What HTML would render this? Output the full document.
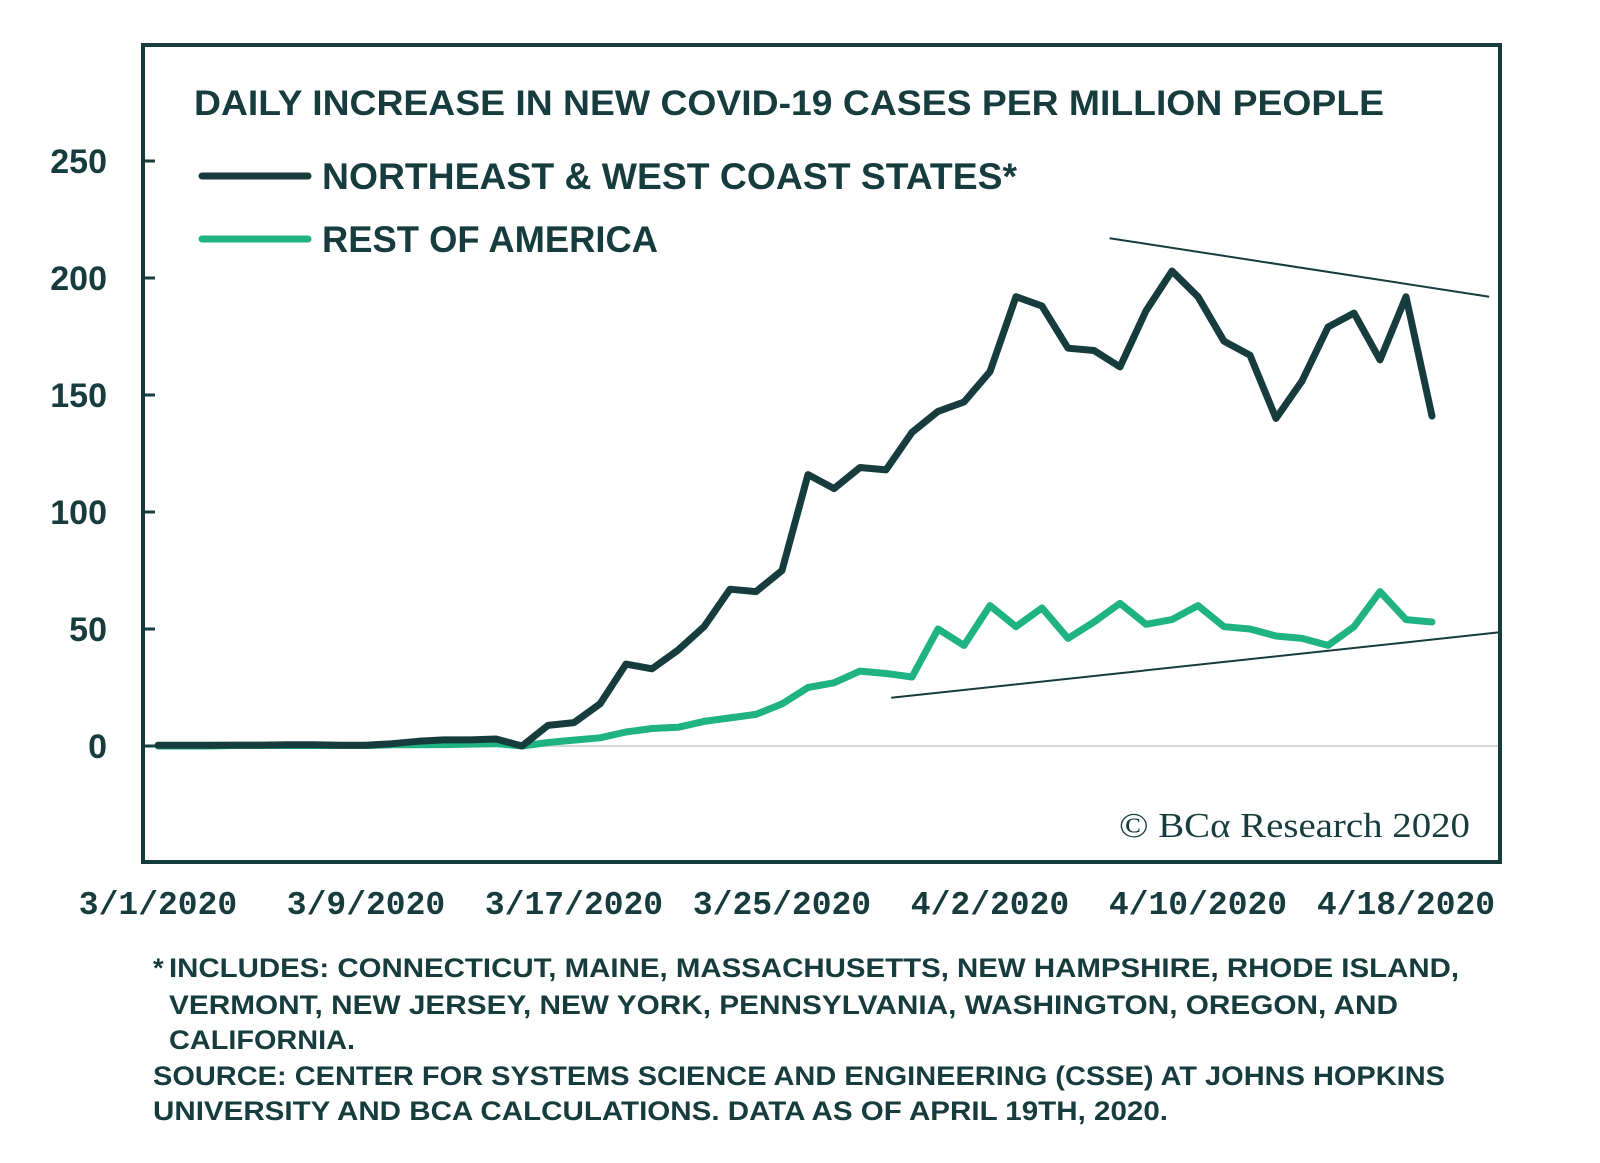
<!DOCTYPE html>
<html><head><meta charset="utf-8"><style>
html,body{margin:0;padding:0;background:#fff;}
svg{display:block;}
text{fill:#173c3e;font-family:"Liberation Sans",sans-serif;}
</style></head><body>
<svg id="chart" width="1600" height="1163" viewBox="0 0 1600 1163">
<rect x="143" y="45" width="1357" height="817" fill="none" stroke="#173c3e" stroke-width="4"/>
<text x="194" y="115" font-size="35" font-weight="bold" textLength="1190" lengthAdjust="spacingAndGlyphs">DAILY INCREASE IN NEW COVID-19 CASES PER MILLION PEOPLE</text>
<line x1="202" y1="176" x2="308" y2="176" stroke="#173c3e" stroke-width="7" stroke-linecap="round"/>
<text x="322" y="189" font-size="37" font-weight="bold" textLength="695" lengthAdjust="spacingAndGlyphs">NORTHEAST &amp; WEST COAST STATES*</text>
<line x1="202" y1="239" x2="308" y2="239" stroke="#1fb283" stroke-width="7" stroke-linecap="round"/>
<text x="322" y="252" font-size="37" font-weight="bold" textLength="336" lengthAdjust="spacingAndGlyphs">REST OF AMERICA</text>
<g id="yaxis"></g><g id="xaxis"></g><g id="trends"></g><g id="series"></g>
<text x="1470" y="837" font-size="35" text-anchor="end" textLength="351" lengthAdjust="spacingAndGlyphs" style="font-family:'Liberation Serif',serif">© BCα Research 2020</text>
<g font-size="27" font-weight="bold">
<text x="153" y="977">*</text>
<text x="169" y="977" textLength="1290" lengthAdjust="spacingAndGlyphs">INCLUDES: CONNECTICUT, MAINE, MASSACHUSETTS, NEW HAMPSHIRE, RHODE ISLAND,</text>
<text x="169" y="1014" textLength="1229" lengthAdjust="spacingAndGlyphs">VERMONT, NEW JERSEY, NEW YORK, PENNSYLVANIA, WASHINGTON, OREGON, AND</text>
<text x="169" y="1049" textLength="186" lengthAdjust="spacingAndGlyphs">CALIFORNIA.</text>
<text x="153" y="1085" textLength="1292" lengthAdjust="spacingAndGlyphs">SOURCE: CENTER FOR SYSTEMS SCIENCE AND ENGINEERING (CSSE) AT JOHNS HOPKINS</text>
<text x="153" y="1120" textLength="1015" lengthAdjust="spacingAndGlyphs">UNIVERSITY AND BCA CALCULATIONS. DATA AS OF APRIL 19TH, 2020.</text>
</g>
</svg>
<script>
const yTicks=[0,50,100,150,200,250];
const xTickDays=[0,8,16,24,32,40,48];
const xTickLabels=["3/1/2020","3/9/2020","3/17/2020","3/25/2020","4/2/2020","4/10/2020","4/18/2020"];
const northeast=[0.3,0.3,0.3,0.4,0.4,0.5,0.5,0.3,0.3,1,2,2.6,2.6,3,0,8.8,10,18,35,33,41,51,67,66,75,116,110,119,118,134,143,147,160,192,188,170,169,162,186,203,192,173,167,140,156,179,185,165,192,141];
const restOfAmerica=[0,0,0,0.2,0.2,0.2,0.2,0.2,0.2,0.5,0.5,0.6,0.8,1,0,1.5,2.5,3.5,6,7.5,8,10.5,12,13.5,18,25,27,32,31,29.5,50,43,60,51,59,46,53,61,52,54,60,51,50,47,46,43,51,66,54,53];
const upperTrendDays=[36.6,51.2];
const upperTrendVals=[217,192];
const lowerTrendDays=[28.2,51.6];
const lowerTrendVals=[20.6,48.6];

const NS="http://www.w3.org/2000/svg";
const xs=d=>158+26.0*d;
const ys=v=>746-2.34*v;
function mk(tag,attrs,parent){const e=document.createElementNS(NS,tag);for(const k in attrs)e.setAttribute(k,attrs[k]);parent.appendChild(e);return e;}
const ya=document.getElementById('yaxis');
const zl=mk('line',{x1:145,x2:1498,y1:ys(0),y2:ys(0),stroke:'#d6d6d6','stroke-width':2},ya);


yTicks.forEach(v=>{
  const t=mk('line',{x1:143,x2:155,y1:ys(v),y2:ys(v),stroke:'#173c3e','stroke-width':3},ya);
  
  
  const l=mk('text',{x:107,y:ys(v)+12,'font-size':34,'font-weight':'bold','text-anchor':'end'},ya);
  l.textContent=v;
  
  
});
const xa=document.getElementById('xaxis');
xTickDays.forEach((d,i)=>{
  const l=mk('text',{x:xs(d),y:914,'font-size':33,'font-weight':'bold','text-anchor':'middle',style:"font-family:'Liberation Mono',monospace"},xa);
  l.textContent=xTickLabels[i];
  
  
});
const tr=document.getElementById('trends');
const u=mk('line',{x1:xs(upperTrendDays[0]),y1:ys(upperTrendVals[0]),x2:xs(upperTrendDays[1]),y2:ys(upperTrendVals[1]),stroke:'#173c3e','stroke-width':2},tr);


const lo=mk('line',{x1:xs(lowerTrendDays[0]),y1:ys(lowerTrendVals[0]),x2:xs(lowerTrendDays[1]),y2:ys(lowerTrendVals[1]),stroke:'#173c3e','stroke-width':2},tr);


const se=document.getElementById('series');
const pts=a=>a.map((v,i)=>xs(i).toFixed(1)+','+ys(v).toFixed(1)).join(' ');
const g=mk('polyline',{points:pts(restOfAmerica),fill:'none',stroke:'#1fb283','stroke-width':7,'stroke-linejoin':'round','stroke-linecap':'round'},se);


const n=mk('polyline',{points:pts(northeast),fill:'none',stroke:'#173c3e','stroke-width':7,'stroke-linejoin':'round','stroke-linecap':'round'},se);


</script>
</body></html>
